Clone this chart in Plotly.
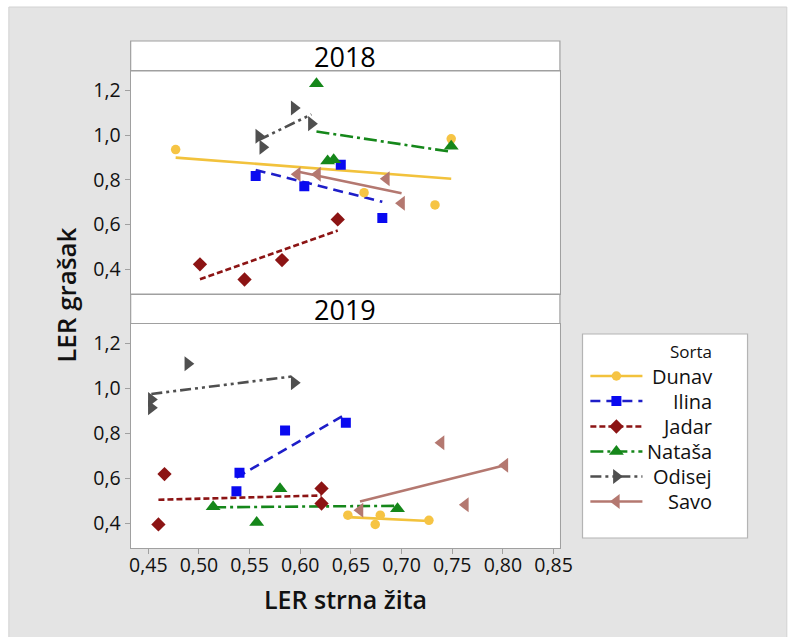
import numpy as np
import plotly.graph_objects as go

W, H = 790, 637

# ---- data: LER (land equivalent ratio) of pea vs. small grains ----
sorte = ["Dunav", "Ilina", "Jadar", "Nataša", "Odisej", "Savo"]

dunav_2018_x = [0.477, 0.663, 0.733, 0.749]
dunav_2018_y = [0.936, 0.743, 0.688, 0.984]
ilina_2018_x = [0.556, 0.604, 0.640, 0.681]
ilina_2018_y = [0.817, 0.771, 0.868, 0.629]
jadar_2018_x = [0.501, 0.545, 0.582, 0.637]
jadar_2018_y = [0.422, 0.354, 0.441, 0.623]
natasa_2018_x = [0.616, 0.627, 0.633, 0.749]
natasa_2018_y = [1.231, 0.885, 0.890, 0.951]
odisej_2018_x = [0.559, 0.563, 0.594, 0.611]
odisej_2018_y = [0.995, 0.946, 1.122, 1.052]
savo_2018_x = [0.597, 0.617, 0.685, 0.700]
savo_2018_y = [0.825, 0.825, 0.805, 0.695]

dunav_2019_x = [0.647, 0.674, 0.679, 0.727]
dunav_2019_y = [0.435, 0.394, 0.435, 0.412]
ilina_2019_x = [0.540, 0.537, 0.585, 0.645]
ilina_2019_y = [0.624, 0.542, 0.812, 0.846]
jadar_2019_x = [0.466, 0.460, 0.621, 0.621]
jadar_2019_y = [0.618, 0.394, 0.554, 0.487]
natasa_2019_x = [0.514, 0.557, 0.580, 0.696]
natasa_2019_y = [0.472, 0.402, 0.553, 0.464]
odisej_2019_x = [0.489, 0.594, 0.453, 0.453]
odisej_2019_y = [1.109, 1.024, 0.950, 0.913]
savo_2019_x = [0.739, 0.802, 0.763, 0.659]
savo_2019_y = [0.757, 0.657, 0.481, 0.457]

x_tickvals = [0.45, 0.50, 0.55, 0.60, 0.65, 0.70, 0.75, 0.80, 0.85]
x_ticktext = ["0,45", "0,50", "0,55", "0,60", "0,65", "0,70", "0,75", "0,80", "0,85"]
y_tickvals = [0.4, 0.6, 0.8, 1.0, 1.2]
y_ticktext = ["0,4", "0,6", "0,8", "1,0", "1,2"]

years = ["2018", "2019"]
data_x = {
    "2018": [dunav_2018_x, ilina_2018_x, jadar_2018_x, natasa_2018_x, odisej_2018_x, savo_2018_x],
    "2019": [dunav_2019_x, ilina_2019_x, jadar_2019_x, natasa_2019_x, odisej_2019_x, savo_2019_x],
}
data_y = {
    "2018": [dunav_2018_y, ilina_2018_y, jadar_2018_y, natasa_2018_y, odisej_2018_y, savo_2018_y],
    "2019": [dunav_2019_y, ilina_2019_y, jadar_2019_y, natasa_2019_y, odisej_2019_y, savo_2019_y],
}

# ---- styles per variety ----
line_col = ["#f2c23c", "#1e1ec8", "#8c1414", "#15871a", "#4f4f4f", "#b47870"]
mark_col = ["#f6c444", "#0a0af0", "#8c1414", "#15871a", "#4f4f4f", "#b47870"]
dashes = ["solid", "10px,6px", "6px,3px", "13px,4px,3px,4px",
          "11px,4px,3px,4px,3px,4px", "solid"]
symbols = ["circle", "square", "diamond", "triangle-up", "triangle-right", "triangle-left"]
sizes = [9.5, 10, 11, 13, 13, 13]

FONT = "Open Sans"
TXT = "#111111"
GRID = "#a0a0a0"


def px(x):
    return x / W


def py(y):
    return 1 - y / H


fig = go.Figure()

axes = {"2018": ("x", "y"), "2019": ("x2", "y2")}

# regression lines first, markers on top
for yr in years:
    xa, ya = axes[yr]
    for i, name in enumerate(sorte):
        xs = np.array(data_x[yr][i])
        ys = np.array(data_y[yr][i])
        k, b = np.polyfit(xs, ys, 1)
        xl = np.array([xs.min(), xs.max()])
        fig.add_trace(go.Scatter(
            x=xl, y=k * xl + b, mode="lines", xaxis=xa, yaxis=ya,
            line=dict(color=line_col[i], width=2.6, dash=dashes[i]),
            hoverinfo="skip", showlegend=False))
for yr in years:
    xa, ya = axes[yr]
    for i, name in enumerate(sorte):
        fig.add_trace(go.Scatter(
            x=data_x[yr][i], y=data_y[yr][i], mode="markers", name=name,
            xaxis=xa, yaxis=ya,
            marker=dict(symbol=symbols[i], size=sizes[i], color=mark_col[i],
                        line=dict(width=0)),
            showlegend=False))

# ---- legend drawn in its own small coordinate frame ----
LX0, LX1, LY0, LY1 = 592, 760, 334, 538
row_y = [376, 401, 426.5, 451.5, 476.5, 501.5]
for i, name in enumerate(sorte):
    fig.add_trace(go.Scatter(
        x=[600, 653], y=[row_y[i], row_y[i]], mode="lines", xaxis="x3", yaxis="y3",
        line=dict(color=line_col[i], width=2.6, dash=dashes[i]),
        hoverinfo="skip", showlegend=False))
    fig.add_trace(go.Scatter(
        x=[626.5], y=[row_y[i]], mode="markers", xaxis="x3", yaxis="y3",
        marker=dict(symbol=symbols[i], size=sizes[i], color=mark_col[i]),
        hoverinfo="skip", showlegend=False))

annotations = []
for i, name in enumerate(sorte):
    annotations.append(dict(x=726, y=row_y[i], xref="x3", yref="y3", text=name,
                            xanchor="right", yanchor="middle", showarrow=False,
                            font=dict(family=FONT, size=20, color=TXT)))
annotations.append(dict(x=726, y=351, xref="x3", yref="y3", text="Sorta",
                        xanchor="right", yanchor="middle", showarrow=False,
                        font=dict(family=FONT, size=17, color=TXT)))

# panel headers and axis titles
annotations.append(dict(x=px(350.5), y=py(56), xref="paper", yref="paper", text="2018",
                        showarrow=False, xanchor="center", yanchor="middle",
                        font=dict(family=FONT, size=27, color="#000000")))
annotations.append(dict(x=px(350.5), y=py(309), xref="paper", yref="paper", text="2019",
                        showarrow=False, xanchor="center", yanchor="middle",
                        font=dict(family=FONT, size=27, color="#000000")))
annotations.append(dict(x=px(350.5), y=py(599), xref="paper", yref="paper",
                        text="LER strna žita", showarrow=False, xanchor="center",
                        yanchor="middle",
                        font=dict(family=FONT, size=25, color=TXT, weight=600)))
annotations.append(dict(x=px(66), y=py(295), xref="paper", yref="paper",
                        text="LER grašak", showarrow=False, textangle=-90,
                        xanchor="center", yanchor="middle",
                        font=dict(family=FONT, size=26, color=TXT, weight=600)))

PX0, PX1 = 132, 569
TOP = (41, 71, 294)      # header top, plot top, plot bottom (pixels)
BOT = (294, 323.5, 548)

shapes = [
    # grey page frame
    dict(type="rect", xref="paper", yref="paper", x0=px(8), x1=px(800), y0=py(650), y1=py(7),
         fillcolor="#e4e4e4", line=dict(color="#d2d2d2", width=1), layer="below"),
]
for hdr_top, plot_top, plot_bot in (TOP, BOT):
    shapes.append(dict(type="rect", xref="paper", yref="paper",
                       x0=px(PX0), x1=px(PX1), y0=py(plot_bot), y1=py(hdr_top),
                       fillcolor="#ffffff", line=dict(width=0), layer="below"))
    shapes.append(dict(type="rect", xref="paper", yref="paper",
                       x0=px(PX0), x1=px(PX1), y0=py(plot_top), y1=py(hdr_top),
                       fillcolor="rgba(0,0,0,0)", line=dict(color=GRID, width=1.2),
                       layer="below"))
shapes.append(dict(type="rect", xref="paper", yref="paper",
                   x0=px(LX0), x1=px(LX1), y0=py(LY1), y1=py(LY0),
                   fillcolor="#ffffff", line=dict(color="#b4b4b4", width=1.2),
                   layer="below"))

XR = [0.4326, 0.8563]
YR = [0.289, 1.2877]

common_y = dict(range=YR, tickvals=y_tickvals, ticktext=y_ticktext, ticks="outside",
                ticklen=5, tickcolor=GRID, showgrid=False, zeroline=False,
                showline=True, linecolor=GRID, linewidth=1.2, mirror=True,
                tickfont=dict(family=FONT, size=19.5, color=TXT), fixedrange=True)
common_x = dict(range=XR, tickvals=x_tickvals, showgrid=False, zeroline=False,
                showline=True, linecolor=GRID, linewidth=1.2, mirror=True,
                fixedrange=True)

fig.update_layout(
    width=W, height=H,
    margin=dict(l=0, r=0, t=0, b=0),
    paper_bgcolor="#ffffff",
    plot_bgcolor="rgba(0,0,0,0)",
    showlegend=False,
    xaxis=dict(domain=[px(PX0), px(PX1)], anchor="y", showticklabels=False,
               ticks="", **common_x),
    yaxis=dict(domain=[py(TOP[2]), py(TOP[1])], anchor="x", **common_y),
    xaxis2=dict(domain=[px(PX0), px(PX1)], anchor="y2", ticktext=x_ticktext,
                ticks="outside", ticklen=5, tickcolor=GRID, ticklabelstandoff=-6,
                tickfont=dict(family=FONT, size=19.5, color=TXT), **common_x),
    yaxis2=dict(domain=[py(BOT[2]), py(BOT[1])], anchor="x2", **common_y),
    xaxis3=dict(domain=[px(LX0), px(LX1)], anchor="y3", range=[LX0, LX1],
                visible=False, fixedrange=True),
    yaxis3=dict(domain=[py(LY1), py(LY0)], anchor="x3", range=[LY1, LY0],
                visible=False, fixedrange=True),
    shapes=shapes,
    annotations=annotations,
    font=dict(family=FONT, color=TXT),
)

fig.write_html("out.html")
